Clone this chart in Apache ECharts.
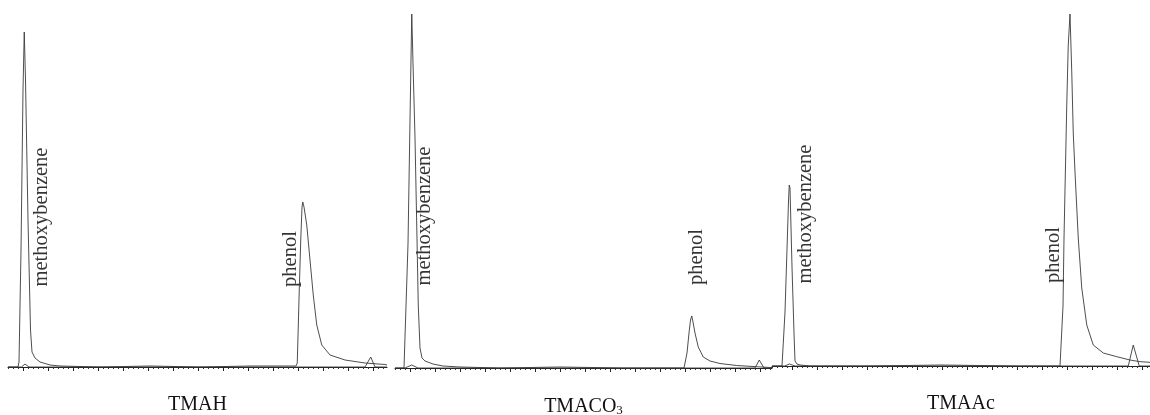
<!doctype html>
<html>
	<head>
		<meta charset="utf-8">
		<title>色谱图</title>
		<script src="https://cdn.jsdelivr.net/npm/echarts@6/dist/echarts.min.js"></script>
		<style>
			html, body {
				margin: 0px;
				padding: 0px;
				background: #fff;
			}
			#chart {
				width: 1150px;
				height: 415px;
			}
		</style>
	</head>

	<body>
		<div id="chart"></div>
	</body>

	<script type="text/javascript">
		//面板名称 (x轴名称)
		var panelNames = ['TMAH', 'TMACO{sub|3}', 'TMAAc'];
		//峰标注
		var peakNames = ['methoxybenzene', 'phenol'];
		//主刻度 (min)
		var majorTicks = [0, 1, 2, 3, 4, 5, 6, 7, 8, 9, 10, 11, 12, 13, 14];
		//每个面板的时间范围
		var axisMin = [-0.6, -0.6, -0.8];
		var axisMax = [14.56, 14.48, 14.32];

		//TMAH 色谱
		var tmahTime = [-0.6, -0.2, -0.16, -0.08, 0, 0.05, 0.1, 0.2, 0.3, 0.36, 0.48, 0.68, 1.08, 1.48, 3.08, 5.08, 7.08, 9.08, 10.76,
			10.92, 10.97, 11.01, 11.05, 11.11, 11.16, 11.19, 11.24, 11.35, 11.48, 11.61, 11.75, 11.95, 12.28, 12.88, 13.68, 14.48, 14.56];
		var tmahSignal = [0, 0, 5, 117, 277, 335, 287, 147, 37, 15, 9, 5, 2, 1, 0, 1, 0, 1, 1,
			1, 4, 40, 77, 127, 160, 165, 160, 142, 107, 72, 42, 22, 12, 7, 4, 2.5, 2];
		var tmahBaseTime = [-0.6, -0.06, 0.08, 0.24, 13.68, 13.91, 14.08, 14.56];
		var tmahBaseSignal = [0, 0, 3, 0, 0, 10, 0, 0];
		var tmahLabelTime = [0.75, 10.7];
		var tmahLabelLevel = [150, 108];

		//TMACO3 色谱
		var tmacTime = [-0.6, -0.24, -0.16, -0.08, 0, 0.07, 0.12, 0.2, 0.28, 0.33, 0.4, 0.48, 0.6, 0.92, 1.32, 2, 3.6, 6, 8.5,
			10.96, 11, 11.08, 11.16, 11.22, 11.27, 11.32, 11.4, 11.53, 11.73, 12, 12.4, 13.07, 13.72, 14.4, 14.48];
		var tmacSignal = [0, 0, 1, 124, 248, 354, 305, 230, 129, 63, 20, 10, 7, 4, 2, 1, 0, 1, 0,
			0, 1, 15, 35, 48, 52, 46, 35, 21, 11, 7, 4.5, 2.5, 1.5, 0.5, 0.5];
		var tmacBaseTime = [-0.6, -0.2, 0.07, 0.32, 13.8, 13.97, 14.16, 14.48];
		var tmacBaseSignal = [0, 0, 3, 0, 0, 8, 0, 0];
		var tmacLabelTime = [0.6, 11.47];
		var tmacLabelLevel = [152, 111];

		//TMAAc 色谱
		var tmaaTime = [-0.8, -0.4, -0.35, -0.28, -0.2, -0.14, -0.11, -0.08, 0, 0.08, 0.12, 0.2, 0.32, 0.72, 3, 6, 9,
			10.72, 10.79, 10.84, 10.88, 10.99, 11.05, 11.12, 11.19, 11.25, 11.32, 11.45, 11.59, 11.79, 12.05, 12.45, 12.99, 13.52, 13.92, 14.32];
		var tmaaSignal = [0, 0, 2, 54, 117, 165, 181, 178, 99, 33, 5, 2, 1, 0, 0, 1, 0,
			0, 1, 60, 128, 261, 321, 352, 294, 233, 194, 128, 78, 41, 21, 13, 9.3, 6, 4.3, 3.7];
		var tmaaBaseTime = [-0.8, -0.3, -0.1, 0.12, 13.45, 13.65, 13.89, 14.32];
		var tmaaBaseSignal = [0, 0, 2, 0, 0, 21, 0, 0];
		var tmaaLabelTime = [0.54, 10.48];
		var tmaaLabelLevel = [152, 111];

		var myChart;
		var serif = '"Liberation Serif", "DejaVu Serif", serif';
		var lineColor = '#3a3a3a';

		var byId = function(id) {
			return document.getElementById(id);
		};

		//时间和信号拼成 [x, y]
		function pairs(xs, ys) {
			return xs.map(function(x, i) {
				return [x, ys[i]];
			});
		}

		//次刻度: 主刻度之间 4 个
		function minorTicks(min, max) {
			var list = [];
			for (var k = Math.floor(min); k <= max; k++) {
				for (var j = 1; j < 5; j++) {
					var v = Math.round((k + j * 0.2) * 100) / 100;
					if (v >= min && v <= max) list.push(v);
				}
			}
			return list;
		}

		var getOption = function() {
			var grids = [
				{ left: 8, width: 379, top: 7, bottom: 48, outerBoundsMode: 'none' },
				{ left: 395, width: 377, top: 8, bottom: 47, outerBoundsMode: 'none' },
				{ left: 772, width: 378, top: 6, bottom: 49, outerBoundsMode: 'none' }
			];
			var nameGaps = [28, 27.5, 28];
			var traces = [
				[tmahTime, tmahSignal, tmahBaseTime, tmahBaseSignal, tmahLabelTime, tmahLabelLevel],
				[tmacTime, tmacSignal, tmacBaseTime, tmacBaseSignal, tmacLabelTime, tmacLabelLevel],
				[tmaaTime, tmaaSignal, tmaaBaseTime, tmaaBaseSignal, tmaaLabelTime, tmaaLabelLevel]
			];
			var xAxis = [], yAxis = [], series = [];
			for (var i = 0; i < 3; i++) {
				//主刻度轴
				xAxis.push({
					type: 'value',
					gridIndex: i,
					position: 'bottom',
					min: axisMin[i],
					max: axisMax[i],
					name: panelNames[i],
					nameLocation: 'middle',
					nameGap: nameGaps[i],
					nameTextStyle: {
						fontFamily: serif,
						fontSize: 20,
						color: '#111',
						rich: {
							sub: {
								fontFamily: serif,
								fontSize: 13,
								color: '#111',
								padding: [9, 0, 0, 0]
							}
						}
					},
					splitLine: { show: false },
					axisLine: { show: true, lineStyle: { color: '#222', width: 1 } },
					axisTick: { show: true, inside: false, length: 4, customValues: majorTicks, lineStyle: { color: '#222' } },
					axisLabel: { show: false }
				});
				yAxis.push({
					type: 'value',
					gridIndex: i,
					min: 0,
					max: 360,
					show: false
				});
			}
			for (var i = 0; i < 3; i++) {
				//次刻度轴
				xAxis.push({
					type: 'value',
					gridIndex: i,
					position: 'bottom',
					offset: 0,
					min: axisMin[i],
					max: axisMax[i],
					splitLine: { show: false },
					axisLine: { show: false },
					axisTick: { show: true, inside: false, length: 2, customValues: minorTicks(axisMin[i], axisMax[i]), lineStyle: { color: '#333' } },
					axisLabel: { show: false }
				});
				var t = traces[i];
				series.push({
					type: 'line',
					xAxisIndex: i,
					yAxisIndex: i,
					showSymbol: false,
					silent: true,
					lineStyle: { color: lineColor, width: 0.9 },
					data: pairs(t[0], t[1])
				});
				series.push({
					type: 'line',
					xAxisIndex: i,
					yAxisIndex: i,
					showSymbol: false,
					silent: true,
					lineStyle: { color: lineColor, width: 0.9 },
					data: pairs(t[2], t[3])
				});
				series.push({
					type: 'scatter',
					xAxisIndex: i,
					yAxisIndex: i,
					symbolSize: 1,
					silent: true,
					itemStyle: { color: 'rgba(0,0,0,0)' },
					label: {
						show: true,
						position: 'inside',
						rotate: 90,
						formatter: '{b}',
						fontFamily: serif,
						fontSize: 20.5,
						color: '#000'
					},
					labelLayout: { hideOverlap: false },
					data: peakNames.map(function(n, k) {
						return { name: n, value: [t[4][k], t[5][k]] };
					})
				});
			}
			return {
				animation: false,
				backgroundColor: '#fff',
				grid: grids,
				xAxis: xAxis,
				yAxis: yAxis,
				series: series
			};
		};

		myChart = echarts.init(byId('chart'));
		myChart.setOption(getOption());
	</script>

</html>
